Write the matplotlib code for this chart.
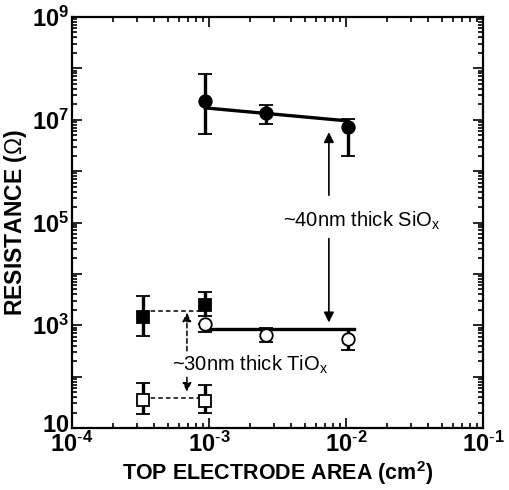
import numpy as np
import matplotlib.pyplot as plt
import matplotlib.transforms as mtrans
from matplotlib.ticker import LogLocator, FuncFormatter, NullFormatter

plt.rcParams['font.family'] = ['Liberation Sans', 'DejaVu Sans']
plt.rcParams['mathtext.fontset'] = 'custom'
plt.rcParams['mathtext.rm'] = 'Liberation Sans'
plt.rcParams['mathtext.bf'] = 'Liberation Sans:bold'

# SiOx, filled circles
sio_area = [9.4e-4, 2.6e-3, 1.03e-2]
sio_res = [2.3e7, 1.35e7, 7.2e6]
sio_hi = [7.8e7, 1.9e7, 1.05e7]
sio_lo = [5.3e6, 8.3e6, 2.0e6]
sio_fit_x = [9.4e-4, 1.03e-2]
sio_fit_y = [1.7e7, 9.5e6]

# TiOx, open circles
tio_area = [9.4e-4, 2.6e-3, 1.03e-2]
tio_res = [1.07e3, 650, 550]
tio_hi = [1.07e3, 890, 850]
tio_lo = [740, 480, 330]
tio_fit_x = [9.4e-4, 1.15e-2]
tio_fit_y = [850, 850]

# TiOx, filled squares
sq_area = [3.3e-4, 9.4e-4]
sq_res = [1.45e3, 2.5e3]
sq_hi = [3.7e3, 4.4e3]
sq_lo = [620, 1.5e3]

# TiOx, open squares
osq_area = [3.3e-4, 9.4e-4]
osq_res = [35, 33]
osq_hi = [76, 69]
osq_lo = [19, 20]

fig = plt.figure(figsize=(5.09, 4.90), dpi=100)
ax = fig.add_axes([72/509, 62/490, 411/509, 411/490])

def bars(x, y, hi, lo, fmt, mfc):
    y = np.array(y)
    err = [y - np.array(lo), np.array(hi) - y]
    ax.errorbar(x, y, yerr=err, fmt=fmt, color='black', mfc=mfc, mec='black',
                ms=9, mew=1.3, elinewidth=2.4, capsize=5, capthick=2.4, zorder=3)

ax.plot(sio_fit_x, sio_fit_y, color='black', lw=2.4)
ax.plot(tio_fit_x, tio_fit_y, color='black', lw=2.4)
bars(sio_area, sio_res, sio_hi, sio_lo, 'o', 'black')
bars(tio_area, tio_res, tio_hi, tio_lo, 'o', 'white')
bars(sq_area, sq_res, sq_hi, sq_lo, 's', 'black')
bars(osq_area, osq_res, osq_hi, osq_lo, 's', 'white')

# dashed connectors
ax.plot([3.3e-4, 9.4e-4], [1.9e3, 1.9e3], ls=(0, (3, 2)), color='black', lw=1.1)
ax.plot([3.3e-4, 9.4e-4], [39, 39], ls=(0, (3, 2)), color='black', lw=1.1)

# SiOx arrow
ax_x = 7.5e-3
ax.annotate('', xy=(ax_x, 6.5e6), xytext=(ax_x, 3e5),
            arrowprops=dict(arrowstyle='-|>', color='black', lw=1.2, mutation_scale=15))
ax.annotate('', xy=(ax_x, 1.0e3), xytext=(ax_x, 5.5e4),
            arrowprops=dict(arrowstyle='-|>', color='black', lw=1.2, mutation_scale=15))
ax.text(1.3e-2, 1.1e5, r'~40nm thick SiO$_\mathregular{x}$', fontsize=14.5,
        ha='center', va='center')

# TiOx arrow
tx = 6.9e-4
ax.annotate('', xy=(tx, 2.0e3), xytext=(tx, 280),
            arrowprops=dict(arrowstyle='-|>', color='black', lw=1.1, ls=(0, (3, 2)),
                            mutation_scale=13))
ax.annotate('', xy=(tx, 45), xytext=(tx, 110),
            arrowprops=dict(arrowstyle='-|>', color='black', lw=1.1, ls=(0, (3, 2)),
                            mutation_scale=13))
ax.text(2.0e-3, 168, r'~30nm thick TiO$_\mathregular{x}$', fontsize=14.5,
        ha='center', va='center')

ax.set_xscale('log')
ax.set_yscale('log')
ax.set_xlim(1e-4, 1e-1)
ax.set_ylim(10, 1e9)

ax.xaxis.set_major_locator(LogLocator(base=10, numticks=10))
ax.yaxis.set_major_locator(LogLocator(base=10, numticks=12))
ax.xaxis.set_minor_locator(LogLocator(base=10, subs=np.arange(2, 10), numticks=12))
ax.yaxis.set_minor_locator(LogLocator(base=10, subs=np.arange(2, 10), numticks=12))
ax.xaxis.set_minor_formatter(NullFormatter())
ax.yaxis.set_minor_formatter(NullFormatter())

def xfmt(v, pos):
    e = int(round(np.log10(v)))
    return r'$\mathbf{10^{\text{-}%d}}$' % (-e)

def yfmt(v, pos):
    e = int(round(np.log10(v)))
    if e == 1:
        return r'$\mathbf{10}$'
    if e % 2 == 1:
        return r'$\mathbf{10^{%d}}$' % e
    return ''

ax.xaxis.set_major_formatter(FuncFormatter(xfmt))
ax.yaxis.set_major_formatter(FuncFormatter(yfmt))

ax.tick_params(which='both', direction='in', top=True, right=True, width=1.2)
ax.tick_params(which='major', length=7, labelsize=17, pad=3)
ax.tick_params(axis='y', which='major', pad=2)
ax.tick_params(which='minor', length=3.5)
for s in ax.spines.values():
    s.set_linewidth(1.6)

ax.set_xlabel(r'TOP ELECTRODE AREA (cm$^\mathbf{2}$)', fontsize=15.5, fontweight='bold', labelpad=1)
ax.set_ylabel(r'RESISTANCE ($\Omega$)', fontsize=16.5, fontweight='bold', labelpad=2)

# nudge the bottom "10" label up so it clears the 10^-4 label
fig.canvas.draw()
for lab in ax.get_yticklabels():
    if lab.get_text() == r'$\mathbf{10}$':
        lab.set_transform(lab.get_transform() +
                          mtrans.ScaledTranslation(0, 3/72, fig.dpi_scale_trans))

fig.savefig('out.png', dpi=100)
